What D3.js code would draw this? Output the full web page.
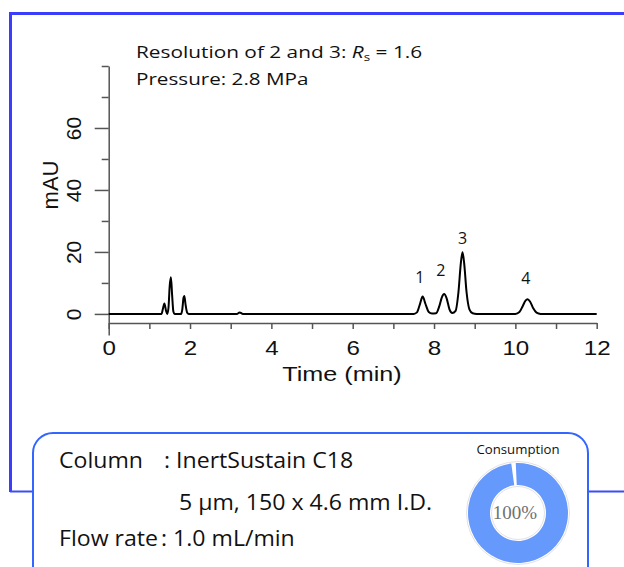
<!DOCTYPE html>
<html lang="en">
<head>
<meta charset="utf-8">
<title>Chromatogram</title>
<script src="https://cdn.jsdelivr.net/npm/d3@7"></script>
<style>
  body { margin: 0; background: #fff; }
  svg { display: block; }
  .note { font-family: "Open Sans", Lato, sans-serif; fill: #111; }
  .axis text, .ax-title { font-family: "Liberation Sans", Arial, sans-serif; fill: #111; }
</style>
</head>
<body>
<script>
// chromatogram trace (time in min, signal in mAU)
var traceTime = [0, 1.30, 1.33, 1.37, 1.41, 1.44, 1.47, 1.50, 1.53, 1.56, 1.59, 1.62,
  1.78, 1.81, 1.84, 1.86, 1.89, 1.93, 1.97, 3.15, 3.22, 3.30,
  7.50, 7.58, 7.65, 7.72, 7.79, 7.87, 7.95, 8.05, 8.13, 8.19, 8.25, 8.31, 8.38, 8.45,
  8.53, 8.60, 8.66, 8.70, 8.74, 8.80, 8.87, 8.95, 9.05,
  10.00, 10.10, 10.18, 10.25, 10.30, 10.36, 10.44, 10.52, 10.62, 12.0];
var traceMAU = [0, 0, 1.5, 3.4, 1.0, 0, 2, 9, 11.8, 6, 0.8, 0,
  0, 1.5, 5.2, 5.8, 3, 0.4, 0, 0, 0.5, 0,
  0, 0.5, 3, 5.6, 3.2, 0.6, 0.1, 0.2, 2.5, 5.3, 6.4, 5, 1.5, 0.3,
  1, 7, 16.5, 19.9, 16.5, 7, 1.5, 0.2, 0,
  0, 0.6, 2.5, 4.3, 4.7, 4, 1.8, 0.4, 0, 0];

var peakLabels = ["1", "2", "3", "4"];
var peakLabelTime = [7.65, 8.17, 8.70, 10.26];
var peakLabelMAU = [10, 12.3, 22.6, 9.7];

var xTicks = d3.range(0, 13, 1);
var yMajor = [0, 20, 40, 60];
var yMinor = [10, 30, 50, 70, 80];
var consumption = [100];

var w = 624, h = 567;

// the original picture is a little wider than tall, so the text is widened too
function widen(sel, sx) {
  sel.each(function() {
    var t = d3.select(this);
    var tx = +t.attr("x") || 0, ty = +t.attr("y") || 0;
    t.attr("x", 0).attr("y", 0)
      .attr("transform", "translate(" + tx + "," + ty + ") scale(" + sx + ",1)");
  });
  return sel;
}

var svg = d3.select("body").append("svg")
  .attr("width", w)
  .attr("height", h);

var x = d3.scaleLinear().domain([0, 12]).range([108.7, 596.7]);
var y = d3.scaleLinear().domain([-6.8, 80]).range([335, 66]);

// outer frame
svg.append("path")
  .attr("d", "M10.5,492 V13.5 H624")
  .attr("fill", "none")
  .attr("stroke", "#3c3cfb")
  .attr("stroke-width", 3);
svg.append("line")
  .attr("x1", 10).attr("x2", 34).attr("y1", 491.5).attr("y2", 491.5)
  .attr("stroke", "#3d4cf5").attr("stroke-width", 2);
svg.append("line")
  .attr("x1", 588).attr("x2", 624).attr("y1", 491.5).attr("y2", 491.5)
  .attr("stroke", "#3d4cf5").attr("stroke-width", 2);

// notes at the top
var t1 = svg.append("text").attr("class", "note")
  .attr("x", 136).attr("y", 57.5).attr("font-size", 17);
t1.append("tspan").text("Resolution of 2 and 3: ");
t1.append("tspan").attr("font-style", "italic").text("R");
t1.append("tspan").attr("font-size", 11).attr("dy", 3).text("s");
t1.append("tspan").attr("dy", -3).text(" = 1.6");
widen(t1, 1.225);
widen(svg.append("text").attr("class", "note")
  .attr("x", 136).attr("y", 84.5).attr("font-size", 17)
  .text("Pressure: 2.8 MPa"), 1.215);

// y axis
var yAxisMinor = d3.axisLeft(y).tickValues(yMinor).tickSize(7).tickFormat("");
var yAxisMajor = d3.axisLeft(y).tickValues(yMajor).tickSize(14).tickSizeOuter(0).tickPadding(12);

svg.append("g").attr("class", "axis")
  .attr("transform", "translate(108.7,0)")
  .call(yAxisMinor)
  .call(function(g) { g.select(".domain").remove(); });

var gy = svg.append("g").attr("class", "axis")
  .attr("transform", "translate(108.7,0)")
  .call(yAxisMajor);
gy.selectAll("text")
  .attr("font-size", 21)
  .attr("x", 0)
  .attr("dy", 0)
  .attr("text-anchor", "middle")
  .attr("transform", "translate(-34.5,0) rotate(-90) translate(0,6.8)");

svg.append("text").attr("class", "ax-title")
  .attr("transform", "translate(57.5,185) rotate(-90)")
  .attr("text-anchor", "middle")
  .attr("font-size", 22)
  .text("mAU");

// x axis
var xAxis = d3.axisBottom(x).tickValues(xTicks).tickSize(6).tickSizeOuter(0)
  .tickFormat(function(d) { return d % 2 === 0 ? d : ""; });
var gx = svg.append("g").attr("class", "axis")
  .attr("transform", "translate(0,323)")
  .call(xAxis);
gx.selectAll("text").attr("font-size", 21).attr("y", 17);
widen(gx.selectAll("text"), 1.15);

svg.selectAll(".axis path, .axis line")
  .attr("stroke", "#555")
  .attr("stroke-width", 1.5);

widen(svg.append("text").attr("class", "ax-title")
  .attr("x", 342).attr("y", 380.5)
  .attr("text-anchor", "middle")
  .attr("font-size", 21)
  .text("Time (min)"), 1.2);

// trace
var line = d3.line()
  .x(function(d, i) { return x(traceTime[i]); })
  .y(function(d) { return y(d); })
  .curve(d3.curveMonotoneX);

svg.append("path")
  .datum(traceMAU)
  .attr("d", line)
  .attr("fill", "none")
  .attr("stroke", "#000")
  .attr("stroke-width", 2);

svg.selectAll(".peak")
  .data(peakLabels)
  .enter().append("text")
  .attr("class", "note peak")
  .attr("x", function(d, i) { return x(peakLabelTime[i]); })
  .attr("y", function(d, i) { return y(peakLabelMAU[i]); })
  .attr("text-anchor", "middle")
  .attr("font-size", 16)
  .text(function(d) { return d; });

// conditions box
svg.append("rect")
  .attr("x", 33).attr("y", 433)
  .attr("width", 555).attr("height", 160)
  .attr("rx", 20)
  .attr("fill", "#fff")
  .attr("stroke", "#3366ff")
  .attr("stroke-width", 2);

var box = svg.append("g").attr("class", "note").attr("font-size", 21);
box.append("text").attr("x", 59).attr("y", 468).text("Column");
box.append("text").attr("x", 164).attr("y", 468).text(": InertSustain C18");
box.append("text").attr("x", 179).attr("y", 510).text("5 \u00b5m, 150 x 4.6 mm I.D.");
box.append("text").attr("x", 59).attr("y", 546).text("Flow rate");
box.append("text").attr("x", 161).attr("y", 546).text(": 1.0 mL/min");
widen(box.selectAll("text"), 1.1);

// consumption donut
var cx = 518, cy = 513;
widen(svg.append("text").attr("class", "note")
  .attr("x", cx).attr("y", 454)
  .attr("text-anchor", "middle")
  .attr("font-size", 12)
  .text("Consumption"), 1.1);

var pie = d3.pie().sort(null)
  .startAngle(-0.045)
  .endAngle(function() { return -0.045 + 2 * Math.PI * (consumption[0] / 100) - 0.09; });
var arc = d3.arc().innerRadius(28).outerRadius(50);

var dg = svg.append("g").attr("transform", "translate(" + cx + "," + cy + ")");
dg.append("circle").attr("r", 51.5).attr("fill", "none").attr("stroke", "#e2e2e2").attr("stroke-width", 1);
dg.append("circle").attr("r", 26.5).attr("fill", "none").attr("stroke", "#e2e2e2").attr("stroke-width", 1);
dg.selectAll("path")
  .data(pie(consumption))
  .enter().append("path")
  .attr("d", arc)
  .attr("fill", "#6699fc");
dg.append("text")
  .attr("x", -3)
  .attr("text-anchor", "middle")
  .attr("dy", "0.3em")
  .attr("font-family", "Liberation Serif, serif")
  .attr("font-size", 19)
  .attr("fill", "#707070")
  .text(consumption[0] + "%");
</script>
</body>
</html>
